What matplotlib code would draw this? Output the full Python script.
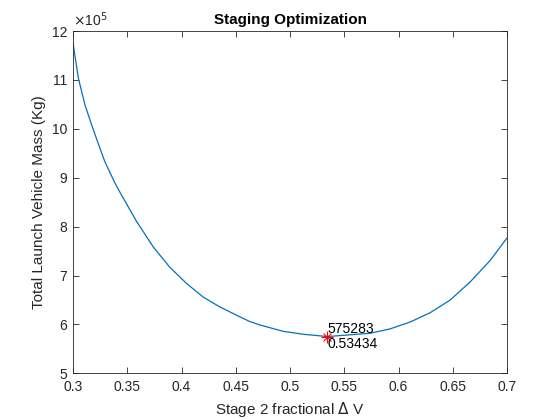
import matplotlib.pyplot as plt
from matplotlib.ticker import FuncFormatter

# values
dv_frac = [0.3000, 0.3050, 0.3110, 0.3172, 0.3234, 0.3295, 0.3387, 0.3431,
           0.3585, 0.3738, 0.3892, 0.4046, 0.4200, 0.4353, 0.4507, 0.4629,
           0.4722, 0.4937, 0.5122, 0.53434, 0.5737, 0.5922, 0.6107, 0.6291,
           0.6476, 0.6660, 0.6845, 0.7000]
mass_kg = [1175000, 1103000, 1049000, 1008000, 969000, 932000, 889000, 871000,
           811000, 759000, 717000, 684000, 656000, 636000, 619000, 606000,
           599000, 586000, 580000, 575283, 582000, 591000, 605000, 624000,
           650000, 687000, 731000, 777000]

opt_x = 0.53434
opt_m = 575283

plt.rcParams['font.family'] = ['Liberation Sans', 'DejaVu Sans']

fig = plt.figure(figsize=(5.6, 4.2), dpi=100)
ax = fig.add_axes([0.1304, 0.111, 0.775, 0.815])

ax.plot(dv_frac, mass_kg, color='#0072BD', lw=0.9)
ax.plot(opt_x, opt_m, marker='x', color='red', ms=6, mew=0.8)
ax.plot(opt_x, opt_m, marker='+', color='red', ms=8, mew=0.8)
ax.text(opt_x, opt_m, '575283\n0.53434', ha='left', va='center',
        fontsize=10, linespacing=1.15)

ax.set_xlim(0.3, 0.7)
ax.set_ylim(5e5, 12e5)
ax.set_xticks([0.3, 0.35, 0.4, 0.45, 0.5, 0.55, 0.6, 0.65, 0.7])
ax.set_yticks([5e5, 6e5, 7e5, 8e5, 9e5, 10e5, 11e5, 12e5])
ax.xaxis.set_major_formatter(FuncFormatter(lambda v, p: f'{v:g}'))
ax.yaxis.set_major_formatter(FuncFormatter(lambda v, p: f'{v / 1e5:g}'))
ax.tick_params(direction='in', length=4, width=0.6, labelsize=10,
               colors='#262626', top=True, right=True)
ax.tick_params(axis='y', pad=4)
ax.tick_params(axis='x', pad=5)
for s in ax.spines.values():
    s.set_linewidth(0.6)
    s.set_color('#262626')

ax.text(0.0, 1.005, r'$\times$10$^5$', transform=ax.transAxes,
        fontsize=10, color='#262626', ha='left', va='bottom')
ax.set_title('Staging Optimization', fontsize=11, fontweight='bold', pad=5)
ax.set_xlabel('Stage 2 fractional $\\Delta$ V', fontsize=11, color='#262626')
ax.set_ylabel('Total Launch Vehicle Mass (Kg)', fontsize=11, color='#262626')

fig.savefig('out.png', dpi=100)
